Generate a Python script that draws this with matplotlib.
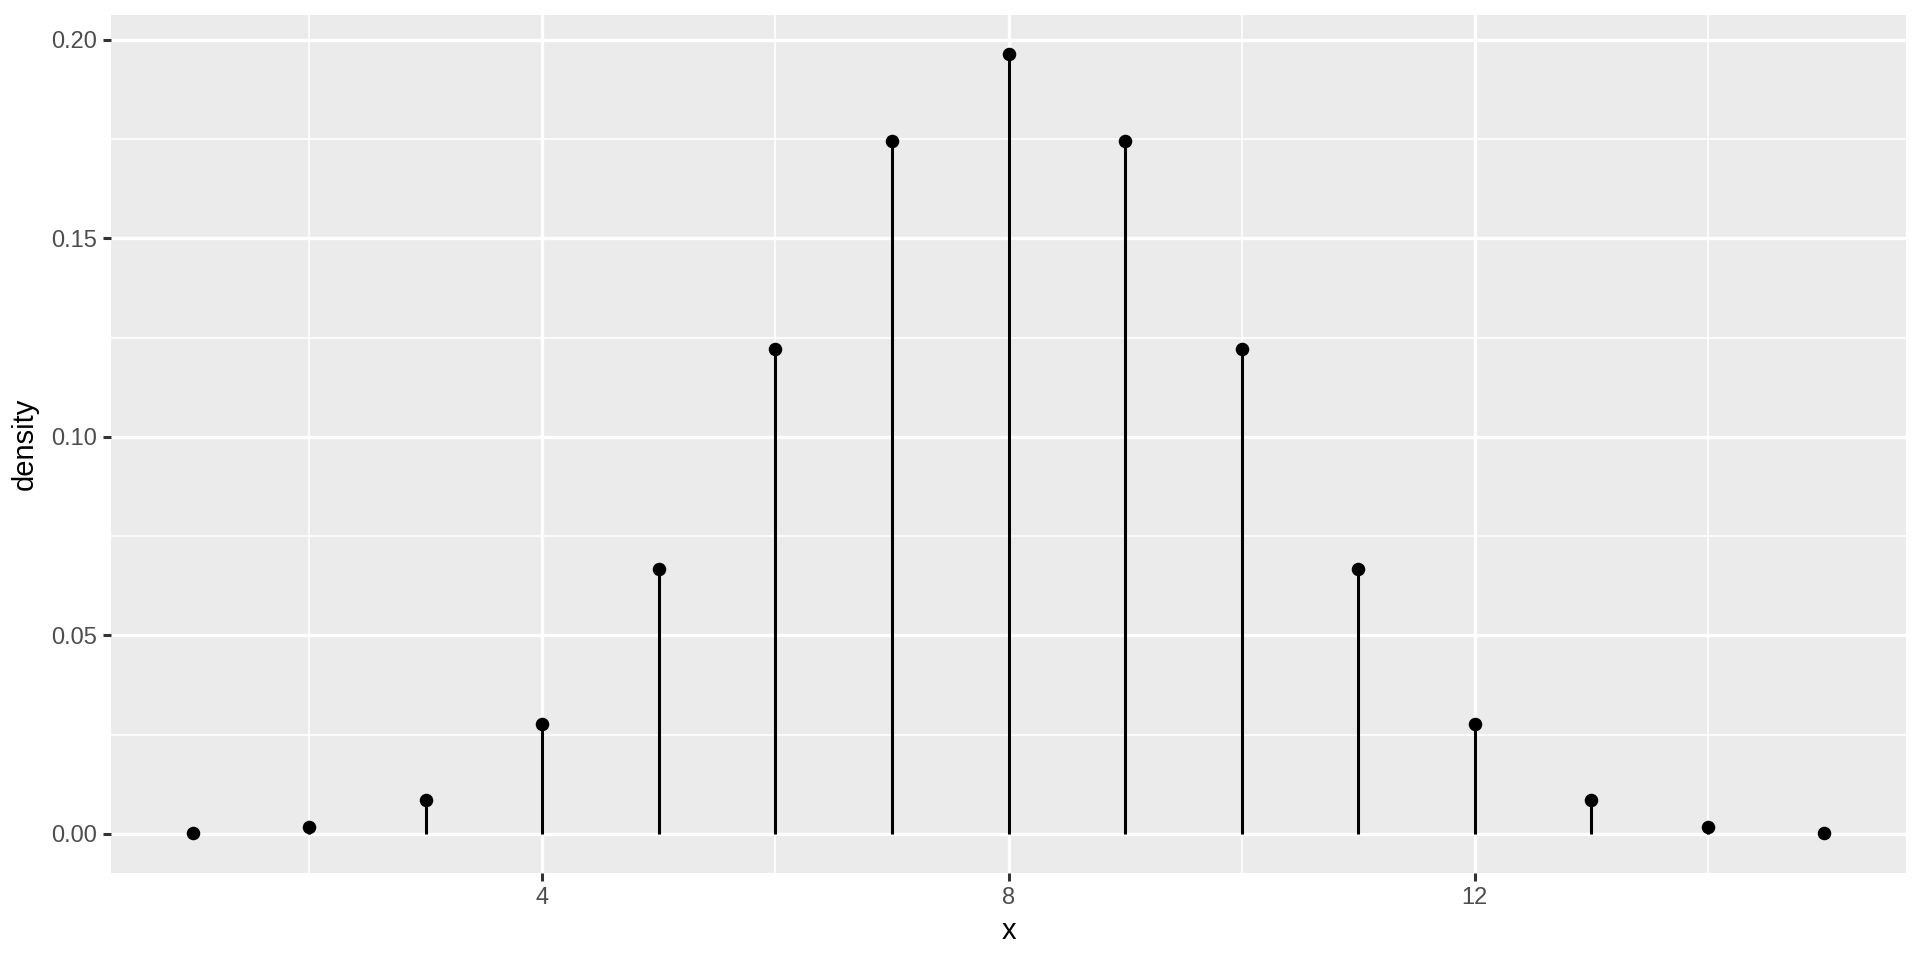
import matplotlib.pyplot as plt
from matplotlib.ticker import MultipleLocator

plt.rcParams["font.family"] = ["Liberation Sans", "DejaVu Sans"]

# values
x_vals = [1, 2, 3, 4, 5, 6, 7, 8, 9, 10, 11, 12, 13, 14, 15]
density = [0.00024, 0.00183, 0.00854, 0.0278, 0.0667, 0.1222, 0.1746, 0.1964,
           0.1746, 0.1222, 0.0667, 0.0278, 0.00854, 0.00183, 0.00024]
x_ticks = [4, 8, 12]
y_ticks = [0.00, 0.05, 0.10, 0.15, 0.20]

fig = plt.figure(figsize=(19.2, 9.6), dpi=100)
ax = fig.add_axes([111 / 1920, 1 - 873 / 960, (1906 - 111) / 1920, (873 - 15) / 960])
ax.set_facecolor("#EBEBEB")

ax.vlines(x_vals, 0, density, color="black", linewidth=2.2, zorder=3)
ax.scatter(x_vals, density, s=95, color="black", zorder=4, linewidths=0)

ax.set_xlim(0.3, 15.7)
ax.set_ylim(-0.00982, 0.2062)
ax.set_xticks(x_ticks)
ax.set_yticks(y_ticks)
ax.set_yticklabels([f"{v:.2f}" for v in y_ticks])
ax.xaxis.set_minor_locator(MultipleLocator(2))
ax.yaxis.set_minor_locator(MultipleLocator(0.025))

ax.grid(which="major", color="white", linewidth=2.4, zorder=0)
ax.grid(which="minor", color="white", linewidth=1.2, zorder=0)
ax.set_axisbelow(True)
for s in ax.spines.values():
    s.set_visible(False)

ax.tick_params(which="major", length=6, width=2.2, color="#333333",
               labelcolor="#4D4D4D", labelsize=17, pad=4)
ax.tick_params(which="minor", length=0)

ax.set_xlabel("x", fontsize=21, labelpad=6)
ax.set_ylabel("density", fontsize=21, labelpad=9)

fig.savefig("out.png", dpi=100)
